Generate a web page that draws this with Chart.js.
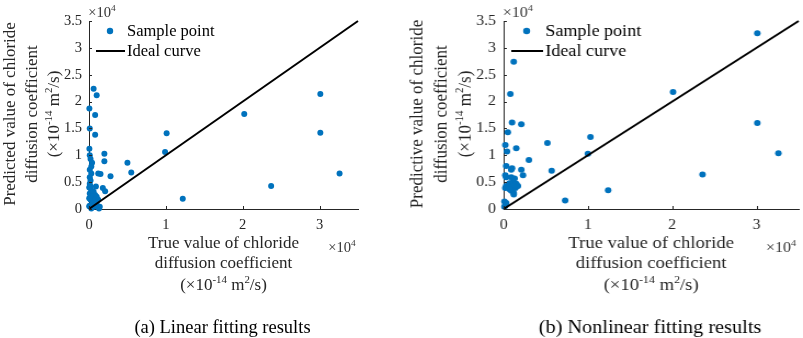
<!DOCTYPE html>
<html>
<head>
<meta charset="utf-8">
<script src="https://cdn.jsdelivr.net/npm/chart.js@4.4.1/dist/chart.umd.min.js"></script>
<style>
  body { margin: 0; width: 803px; height: 338px; overflow: hidden; background: #fff; position: relative; }
  .panel { position: absolute; top: 0; width: 400px; height: 338px; }
  #pa { left: 0; }
  #pb { left: 406.4px; transform: scaleX(1.0967); transform-origin: 0 0; }
</style>
</head>
<body>
<div class="panel" id="pa"><canvas id="linearChart" width="400" height="338"></canvas></div>
<div class="panel" id="pb"><canvas id="nonlinearChart" width="400" height="338"></canvas></div>
<script>
// true vs predicted chloride diffusion coefficient (x10^-14 m2/s)
const linearTrue = [600, 1000, 50, 800, 100, 800, 50, 100, 200, 400, 300, 100, 300, 100,
  1200, 1500, 2000, 2000, 2800, 1800, 2100, 900, 5000, 5500, 9900, 10100, 12200,
  20200, 23700, 30100, 30100, 32600,
  100, 200, 300, 100, 600, 800, 400, 1000, 200, 700, 1200, 500, 900, 100, 1400, 1100,
  300, 1300, 600, 30, 30, 30, 200];
const linearPred = [22400, 21200, 18700, 17500, 15000, 13800, 11200, 10000, 9300, 8600, 7900, 7300, 6600, 5900,
  6600, 6500, 10300, 8900, 6100, 3900, 3300, 4200, 8600, 6800, 10600, 14100, 1900,
  17700, 4300, 21400, 14200, 6600,
  4700, 4200, 3500, 2900, 3200, 2600, 2300, 2300, 1700, 1700, 1700, 1100, 1100, 600, 400, 600,
  100, 100, 400, 4000, 2000, 500, 5300];

const nonlinearTrue = [1200, 800, 1000, 2100, 500, 200, 1500, 400, 3000, 300, 1000, 900, 2100, 2300, 200, 300,
  5200, 5700, 7300, 10300, 10000, 12400, 20100, 23600, 30100, 30100, 32600,
  900, 1300, 1100, 700, 1500, 300, 600, 1000, 1400, 900, 1200, 700, 1700, 200,
  100, 200, 100, 300, 1200];
const nonlinearPred = [27400, 21400, 16100, 15800, 14300, 11900, 11300, 10700, 9100, 8000, 7600, 7300, 7300, 6300, 6300, 5900,
  12300, 7100, 1600, 13400, 10300, 3500, 21800, 6400, 32700, 16000, 10400,
  5900, 5700, 5100, 4800, 4700, 4300, 4000, 4200, 3900, 3400, 3000, 3700, 4300, 3900,
  1400, 700, 400, 1100, 2700];

const idealTrue = [0, 35000];
const idealPred = [0, 35000];

const xTickValues = [0, 10000, 20000, 30000];
const yTickValues = [0, 5000, 10000, 15000, 20000, 25000, 30000, 35000];

const SERIF = '"Liberation Serif", "Times New Roman", serif';
const AXIS = '#262626';
const BLUE = '#0072BD';

function toPoints(xs, ys) {
  return xs.map((x, i) => ({ x: x, y: ys[i] }));
}

// draw text with superscript pieces: parts = [[text, isSup], ...]
function drawRich(ctx, parts, x, y, size) {
  const supSize = size * 0.64;
  let w = 0;
  parts.forEach(p => {
    ctx.font = (p[1] ? supSize : size) + 'px ' + SERIF;
    w += ctx.measureText(p[0]).width;
  });
  let cx = x - w / 2;
  ctx.textAlign = 'left';
  ctx.textBaseline = 'alphabetic';
  parts.forEach(p => {
    ctx.font = (p[1] ? supSize : size) + 'px ' + SERIF;
    ctx.fillText(p[0], cx, p[1] ? y - size * 0.42 : y);
    cx += ctx.measureText(p[0]).width;
  });
}

function makeDecor(yTitle, caption) {
  return {
    id: 'decor',
    afterDraw(chart) {
      const ctx = chart.ctx;
      const area = chart.chartArea;
      const xs = chart.scales.x, ys = chart.scales.y;
      ctx.save();
      ctx.fillStyle = AXIS;
      ctx.strokeStyle = AXIS;
      ctx.lineWidth = 1;

      // inward tick marks
      ctx.beginPath();
      xTickValues.forEach(v => {
        const px = Math.round(xs.getPixelForValue(v)) + 0.5;
        ctx.moveTo(px, area.bottom);
        ctx.lineTo(px, area.bottom - 3);
      });
      yTickValues.forEach(v => {
        const py = Math.round(ys.getPixelForValue(v)) + 0.5;
        ctx.moveTo(area.left, py);
        ctx.lineTo(area.left + 3, py);
      });
      ctx.stroke();

      // exponent labels
      ctx.fillStyle = '#333';
      drawRich(ctx, [['×10', false], ['4', true]], area.left + 13, 17, 14.5);
      drawRich(ctx, [['×10', false], ['4', true]], area.right - 16, 252, 14.5);

      // x axis title
      ctx.fillStyle = '#262626';
      const cx = (area.left + area.right) / 2;
      drawRich(ctx, [['True value of chloride', false]], cx, 248, 17);
      drawRich(ctx, [['diffusion coefficient', false]], cx, 268, 17);
      drawRich(ctx, [['(×10', false], ['-14', true], [' m', false], ['2', true], ['/s)', false]], cx, 290, 17);

      // y axis title
      ctx.save();
      ctx.translate(0, (area.top + area.bottom) / 2 - 1);
      ctx.rotate(-Math.PI / 2);
      drawRich(ctx, [[yTitle, false]], 0, 15, 17);
      drawRich(ctx, [['diffusion coefficient', false]], 0, 37, 17);
      drawRich(ctx, [['(×10', false], ['-14', true], [' m', false], ['2', true], ['/s)', false]], 0, 59, 17);
      ctx.restore();

      // legend
      ctx.fillStyle = BLUE;
      ctx.beginPath();
      ctx.arc(110, 31, 3.2, 0, Math.PI * 2);
      ctx.fill();
      ctx.strokeStyle = '#000';
      ctx.lineWidth = 2;
      ctx.beginPath();
      ctx.moveTo(96, 51);
      ctx.lineTo(125, 51);
      ctx.stroke();
      ctx.fillStyle = '#000';
      ctx.font = '16.5px ' + SERIF;
      ctx.textAlign = 'left';
      ctx.textBaseline = 'middle';
      ctx.fillText('Sample point', 127, 32);
      ctx.fillText('Ideal curve', 127, 52);

      // caption
      drawRich(ctx, [[caption, false]], cx - 1, 333, 18.5);
      ctx.restore();
    }
  };
}

function buildChart(id, xs, ys, yTitle, caption) {
  return new Chart(id, {
    type: 'scatter',
    data: {
      datasets: [{
        label: 'Ideal curve',
        data: toPoints(idealTrue, idealPred),
        showLine: true,
        borderColor: '#000',
        borderWidth: 2,
        pointRadius: 0,
        clip: false
      }, {
        label: 'Sample point',
        data: toPoints(xs, ys),
        backgroundColor: BLUE,
        borderWidth: 0,
        pointRadius: 3,
        clip: false
      }]
    },
    options: {
      responsive: false,
      animation: false,
      events: [],
      layout: { padding: { top: 21, right: 42, left: 0, bottom: 0 } },
      plugins: { legend: { display: false }, tooltip: { enabled: false } },
      scales: {
        x: {
          type: 'linear',
          min: 0,
          max: 35000,
          afterFit: s => { s.height = 129; },
          afterBuildTicks: s => { s.ticks = xTickValues.map(v => ({ value: v })); },
          grid: { display: false, drawTicks: false },
          border: { display: true, color: AXIS, width: 1 },
          ticks: {
            padding: 7,
            color: AXIS,
            maxRotation: 0,
            font: { family: SERIF, size: 14.5 },
            callback: v => String(v / 10000)
          }
        },
        y: {
          type: 'linear',
          min: 0,
          max: 35000,
          afterFit: s => { s.width = 89; },
          afterBuildTicks: s => { s.ticks = yTickValues.map(v => ({ value: v })); },
          grid: { display: false, drawTicks: false },
          border: { display: true, color: AXIS, width: 1 },
          ticks: {
            padding: 7,
            color: AXIS,
            font: { family: SERIF, size: 14.5 },
            callback: v => String(v / 10000)
          }
        }
      }
    },
    plugins: [makeDecor(yTitle, caption)]
  });
}

buildChart('linearChart', linearTrue, linearPred, 'Predicted value of chloride', '(a) Linear fitting results');
buildChart('nonlinearChart', nonlinearTrue, nonlinearPred, 'Predictive value of chloride', '(b) Nonlinear fitting results');
</script>
</body>
</html>
